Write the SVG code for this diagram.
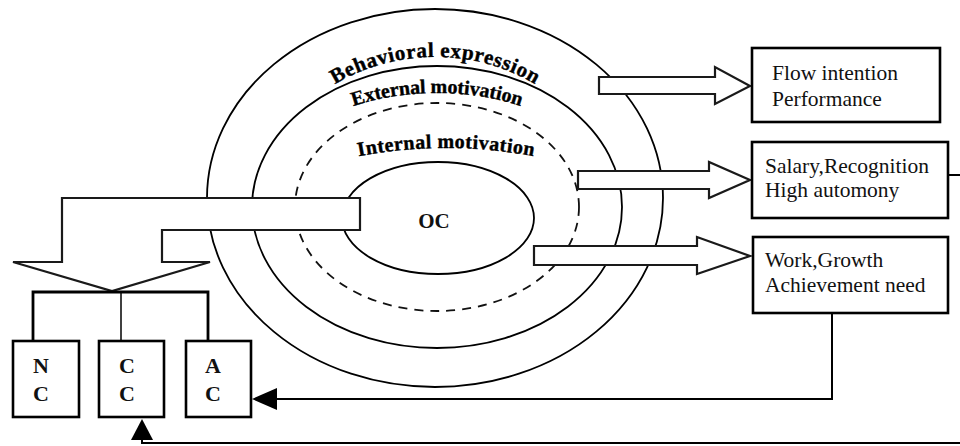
<svg xmlns="http://www.w3.org/2000/svg" width="960" height="446" viewBox="0 0 960 446">
<style>
.ring{fill:none;stroke:#000;stroke-width:1.8}
.dash{fill:none;stroke:#111;stroke-width:1.8;stroke-dasharray:9 7}
.arc{font-family:"Liberation Serif",serif;font-weight:bold;fill:#000;stroke:#000;stroke-width:0.4}
.box{fill:#fff;stroke:#000;stroke-width:2.6}
.txt{font-family:"Liberation Serif",serif;font-size:21.5px;fill:#111}
.let{font-family:"Liberation Serif",serif;font-size:22px;font-weight:bold;fill:#111;text-anchor:middle}
.hollow{fill:#fff;stroke:#1a1a1a;stroke-width:2.2;stroke-linejoin:miter}
.ln{fill:none;stroke:#000;stroke-width:2}
.thick{fill:none;stroke:#000;stroke-width:2.8}
.thin{fill:none;stroke:#000;stroke-width:1.5}
.head{fill:#000}
</style>
<defs>
<path id="pBeh" d="M 265,200 A 170 143 0 0 1 605,200"/>
<path id="pExt" d="M 255,210 A 182 117 0 0 1 619,210"/>
<path id="pInt" d="M 350,158 Q 446,138 542,158"/>
</defs>
<rect width="960" height="446" fill="#fff"/>
<g id="behavioral">
<ellipse class="ring" cx="435" cy="198" rx="228" ry="189"/>
<text class="arc" font-size="21"><textPath href="#pBeh" startOffset="50%" text-anchor="middle" textLength="210" lengthAdjust="spacing">Behavioral expression</textPath></text>
</g>
<g id="external">
<ellipse class="ring" cx="437" cy="207" rx="185" ry="141"/>
<text class="arc" font-size="20"><textPath href="#pExt" startOffset="50%" text-anchor="middle" textLength="170" lengthAdjust="spacing">External motivation</textPath></text>
</g>
<g id="internal">
<ellipse class="dash" cx="437" cy="207" rx="142" ry="104"/>
<text class="arc" font-size="20"><textPath href="#pInt" startOffset="50%" text-anchor="middle" textLength="176" lengthAdjust="spacing">Internal motivation</textPath></text>
</g>
<g id="oc">
<ellipse class="ring" cx="438" cy="218" rx="96" ry="56"/>
<text x="434" y="228" font-family="Liberation Serif,serif" font-size="21" font-weight="bold" text-anchor="middle" fill="#111">OC</text>
</g>
<g id="connectors">
<path class="hollow" d="M 360,198 L 62,198 L 62,262 L 13,262 L 112,291 L 210,262 L 162,262 L 162,230 L 360,230 Z"/>
<path class="hollow" d="M 599,77 L 715,77 L 715,67 L 750,86 L 715,104 L 715,94 L 599,94 Z"/>
<path class="hollow" d="M 578,171 L 709,171 L 709,162 L 750,180 L 709,198 L 709,189 L 578,189 Z"/>
<path class="hollow" d="M 534,246 L 697,246 L 697,237 L 750,256 L 697,274 L 697,265 L 534,265 Z"/>
<path class="thick" d="M 33,341 L 33,292 L 208,292 L 208,341"/>
<path class="thin" d="M 121,292 L 121,341"/>
<path class="ln" d="M 832,313 L 832,399 L 274,399"/>
<path class="head" d="M 252,399 L 277,388 L 277,410 Z"/>
<path class="ln" d="M 960,443 L 142,443 L 142,436"/>
<path class="head" d="M 142,419 L 131,440 L 153,440 Z"/>
<path class="ln" d="M 948,175 L 960,175"/>
</g>
<g id="flow">
<rect class="box" x="752" y="48" width="188" height="74"/>
<text class="txt" x="772" y="80">Flow intention</text>
<text class="txt" x="772" y="106">Performance</text>
</g>
<g id="salary">
<rect class="box" x="752" y="142" width="196" height="76"/>
<text class="txt" x="765" y="173">Salary,Recognition</text>
<text class="txt" x="765" y="197">High automony</text>
</g>
<g id="work">
<rect class="box" x="753" y="237" width="195" height="76"/>
<text class="txt" x="765" y="267">Work,Growth</text>
<text class="txt" x="765" y="292">Achievement need</text>
</g>
<g id="nc">
<rect class="box" x="13" y="341" width="66" height="76"/>
<text class="let" x="41" y="373">N</text>
<text class="let" x="41" y="401">C</text>
</g>
<g id="cc">
<rect class="box" x="99" y="341" width="65" height="76"/>
<text class="let" x="127" y="373">C</text>
<text class="let" x="127" y="401">C</text>
</g>
<g id="ac">
<rect class="box" x="186" y="341" width="65" height="76"/>
<text class="let" x="213" y="373">A</text>
<text class="let" x="213" y="401">C</text>
</g>
</svg>
